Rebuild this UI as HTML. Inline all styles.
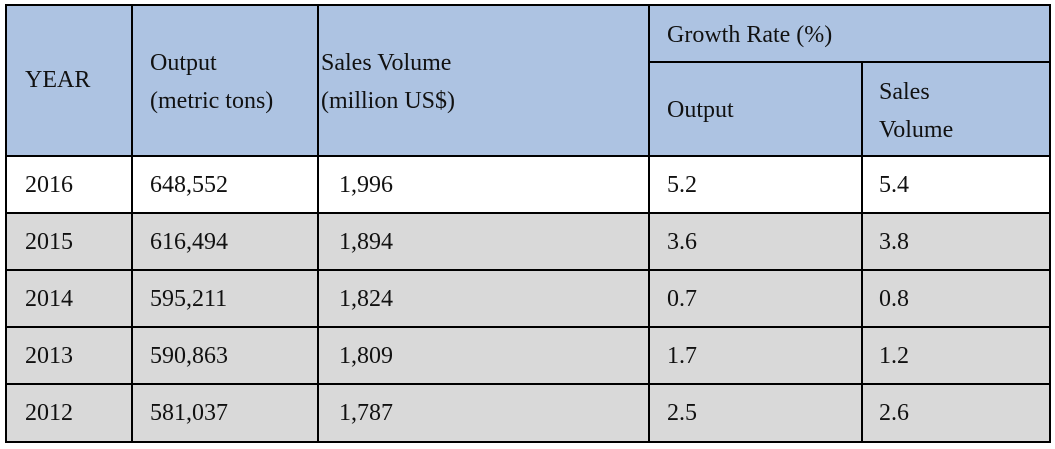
<!DOCTYPE html>
<html><head><meta charset="utf-8"><style>
body{margin:0;width:1055px;height:449px;background:#fff;position:relative;overflow:hidden;font-family:"Liberation Serif",serif;font-size:24px;color:#111}
.bg{position:absolute}
.l{position:absolute;background:#000}
.t{position:absolute;line-height:38px;white-space:nowrap}
</style></head><body>
<div class="bg" style="left:6px;top:5px;width:1044px;height:152px;background:#adc3e2"></div>
<div class="bg" style="left:6px;top:157px;width:1044px;height:57px;background:#fff"></div>
<div class="bg" style="left:6px;top:214px;width:1044px;height:229px;background:#d9d9d9"></div>

<div class="l" style="left:5px;top:4px;width:1046px;height:2px"></div>
<div class="l" style="left:649px;top:61px;width:402px;height:2px"></div>
<div class="l" style="left:5px;top:155px;width:1046px;height:2px"></div>
<div class="l" style="left:5px;top:212px;width:1046px;height:2px"></div>
<div class="l" style="left:5px;top:269px;width:1046px;height:2px"></div>
<div class="l" style="left:5px;top:326px;width:1046px;height:2px"></div>
<div class="l" style="left:5px;top:383px;width:1046px;height:2px"></div>
<div class="l" style="left:5px;top:441px;width:1046px;height:2px"></div>
<div class="l" style="left:5px;top:4px;width:2px;height:439px"></div>
<div class="l" style="left:131px;top:4px;width:2px;height:439px"></div>
<div class="l" style="left:317px;top:4px;width:2px;height:439px"></div>
<div class="l" style="left:648px;top:4px;width:2px;height:439px"></div>
<div class="l" style="left:861px;top:61px;width:2px;height:382px"></div>
<div class="l" style="left:1049px;top:4px;width:2px;height:439px"></div>

<div class="t" style="left:25px;top:61px">YEAR</div>
<div class="t" style="left:150px;top:44px">Output<br>(metric tons)</div>
<div class="t" style="left:321px;top:44px">Sales Volume<br>(million US$)</div>
<div class="t" style="left:667px;top:16px">Growth Rate (%)</div>
<div class="t" style="left:667px;top:91px">Output</div>
<div class="t" style="left:879px;top:73px">Sales<br>Volume</div>

<div id="rows"></div>
<script>
const years=["2016","2015","2014","2013","2012"];
const outputs=["648,552","616,494","595,211","590,863","581,037"];
const sales=["1,996","1,894","1,824","1,809","1,787"];
const gOut=["5.2","3.6","0.7","1.7","2.5"];
const gSales=["5.4","3.8","0.8","1.2","2.6"];
const cols=[[years,25,'year'],[outputs,150,'output'],[sales,339,'sales'],[gOut,667,'growth-output'],[gSales,879,'growth-sales']];
const rowTop=[166,223,280,337,394];
const box=document.getElementById('rows');
years.forEach((y,i)=>{
  cols.forEach(([arr,x,n])=>{
    const d=document.createElement('div');
    d.className='t';
    d.style.left=x+'px';d.style.top=rowTop[i]+'px';
    d.textContent=arr[i];
    
    
    box.appendChild(d);
  });
});
</script>
</body></html>
